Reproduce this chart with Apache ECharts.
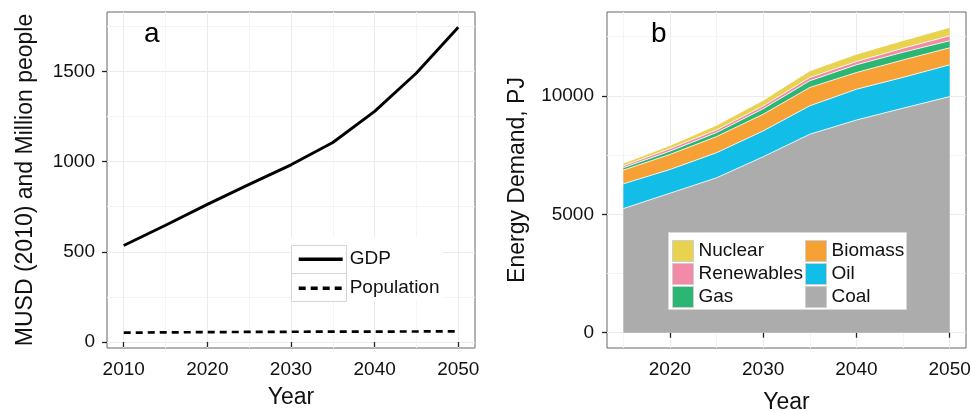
<!DOCTYPE html>
<html><head><meta charset="utf-8">
<script src="https://cdn.jsdelivr.net/npm/echarts@6/dist/echarts.min.js"></script>
<style>html,body{margin:0;padding:0;background:#fff}#c{width:971px;height:411px}</style>
</head><body><div id="c"></div>
<script>
// ---- Panel a data ----
const yearsA = [2010, 2015, 2020, 2025, 2030, 2035, 2040, 2045, 2050];
const gdp = [535, 647, 763, 874, 982, 1106, 1278, 1491, 1744];
const population = [52, 53.5, 55, 56, 57, 57.5, 58, 58.5, 59];
const ticksXA = [2010, 2020, 2030, 2040, 2050];
const minorXA = [2015, 2025, 2035, 2045];
const ticksYA = [0, 500, 1000, 1500];
const minorYA = [250, 750, 1250, 1750];

// ---- Panel b data ----
const yearsB = [2015, 2020, 2025, 2030, 2035, 2040, 2045, 2050];
const coal = [5240, 5890, 6540, 7430, 8380, 8980, 9480, 9970];
const oil = [1045, 1000, 1060, 1090, 1200, 1300, 1300, 1340];
const biomass = [580, 635, 680, 705, 775, 705, 735, 720];
const gas = [100, 140, 170, 230, 280, 325, 325, 295];
const renewables = [80, 110, 115, 120, 140, 140, 170, 210];
const nuclear = [110, 130, 195, 240, 280, 310, 325, 355];
const ticksXB = [2020, 2030, 2040, 2050];
const minorXB = [2015, 2025, 2035, 2045];
const ticksYB = [0, 5000, 10000];
const minorYB = [2500, 7500, 12500];

const FONT = "'Liberation Sans', Arial, Helvetica, sans-serif";
const colors = {Nuclear:'#E8D24F', Renewables:'#F38BA8', Gas:'#2BB673', Biomass:'#F7A035', Oil:'#12BDE7', Coal:'#ABACAB'};

function majorAxis(gridIndex, min, max, ticks, pos, name, nameGap, margin) {
  return {
    type:'value', gridIndex, min, max, position:pos,
    axisLine:{show:false},
    axisTick:{show:true, length:5, customValues:ticks, lineStyle:{color:'#222', width:1.3}},
    axisLabel:{customValues:ticks, margin, fontSize:19, color:'#111', fontFamily:FONT, formatter:v=>String(v)},
    splitLine:{show:true, lineStyle:{color:'#EBEBEB', width:1}},
    name, nameLocation:'middle', nameGap,
    nameTextStyle:{fontSize:23, color:'#111', fontFamily:FONT}
  };
}
function minorAxis(gridIndex, min, max, ticks, pos) {
  return {
    type:'value', gridIndex, min, max, position:pos,
    axisLine:{show:false},
    axisTick:{show:false, customValues:ticks},
    axisLabel:{show:false, customValues:ticks},
    splitLine:{show:true, lineStyle:{color:'#F4F4F4', width:1}}
  };
}

const pair = (xs, ys) => xs.map((x,i)=>[x, ys[i]]);
// value first so that stacking happens on the y (value) dimension
const pairVY = (xs, ys) => xs.map((x,i)=>[ys[i], x]);

const areaNames = ['Coal','Oil','Biomass','Gas','Renewables','Nuclear'];
const areaData = {Coal:coal, Oil:oil, Biomass:biomass, Gas:gas, Renewables:renewables, Nuclear:nuclear};
const areaSeries = areaNames.map(n => ({
  name:n, type:'line', xAxisIndex:2, yAxisIndex:2, stack:'energy',
  data: pairVY(yearsB, areaData[n]), encode:{x:1, y:0},
  symbol:'none', smooth:false,
  lineStyle:{color:'#fff', width:0.8},
  itemStyle:{color:colors[n]},
  areaStyle:{color:colors[n], opacity:1}
}));

const legendText = {fontSize:19, color:'#111', fontFamily:FONT, lineHeight:21};
const legItem = n => ({name:n, itemStyle:{color:colors[n], borderColor:'#CFCFCF', borderWidth:1}});

const option = {
  animation:false,
  backgroundColor:'#fff',
  textStyle:{fontFamily:FONT},
  grid:[
    {left:107, top:12, width:368, height:336, show:true, borderColor:'#666', borderWidth:1, backgroundColor:'transparent', outerBoundsMode:'none'},
    {left:607, top:12, width:359, height:336, show:true, borderColor:'#666', borderWidth:1, backgroundColor:'transparent', outerBoundsMode:'none'}
  ],
  xAxis:[
    majorAxis(0, 2008, 2052, ticksXA, 'bottom', 'Year', 38, 12),
    minorAxis(0, 2008, 2052, minorXA, 'bottom'),
    majorAxis(1, 2013.25, 2051.75, ticksXB, 'bottom', 'Year', 43, 12),
    minorAxis(1, 2013.25, 2051.75, minorXB, 'bottom')
  ],
  yAxis:[
    majorAxis(0, -33, 1829, ticksYA, 'left', 'MUSD (2010) and Million people', 70, 12),
    minorAxis(0, -33, 1829, minorYA, 'left'),
    majorAxis(1, -645, 13540, ticksYB, 'left', 'Energy Demand, PJ', 78, 13),
    minorAxis(1, -645, 13540, minorYB, 'left')
  ],
  legend:[
    {orient:'vertical', left:297, top:248, padding:0, itemWidth:44, itemHeight:28, itemGap:6.6, z:10,
     selectedMode:false, textStyle:{fontSize:19, color:'#111', fontFamily:FONT, padding:[0,0,0,2]},
     itemStyle:{opacity:0}, lineStyle:{width:3.4},
     data:['GDP','Population']},
    {orient:'vertical', left:672, top:240, padding:0, itemWidth:21, itemHeight:21, itemGap:1, z:10,
     selectedMode:false, icon:'rect', textStyle:legendText,
     data:['Nuclear','Renewables','Gas'].map(legItem)},
    {orient:'vertical', left:805, top:240, padding:0, itemWidth:21, itemHeight:21, itemGap:1, z:10,
     selectedMode:false, icon:'rect', textStyle:legendText,
     data:['Biomass','Oil','Coal'].map(legItem)}
  ],
  graphic:{elements:[
    {type:'rect', z:5, shape:{x:290, y:237, width:153, height:64}, style:{fill:'#fff'}},
    {type:'rect', z:6, shape:{x:291.5, y:245.5, width:55, height:28}, style:{fill:'#fff', stroke:'#D5D5D5', lineWidth:1}},
    {type:'rect', z:6, shape:{x:291.5, y:273.5, width:55, height:28}, style:{fill:'#fff', stroke:'#D5D5D5', lineWidth:1}},
    {type:'rect', z:5, shape:{x:668.5, y:232.5, width:238, height:77}, style:{fill:'#fff', stroke:'#DADADA', lineWidth:1}},
    {type:'text', z:6, x:144, y:34, style:{text:'a', fontSize:28, fontFamily:FONT, fill:'#000', verticalAlign:'middle'}},
    {type:'text', z:6, x:651, y:34, style:{text:'b', fontSize:28, fontFamily:FONT, fill:'#000', verticalAlign:'middle'}}
  ]},
  series:[
    {name:'GDP', type:'line', xAxisIndex:0, yAxisIndex:0, data:pair(yearsA, gdp), symbol:'none',
     lineStyle:{color:'#000', width:2.9}, itemStyle:{color:'#000'}},
    {name:'Population', type:'line', xAxisIndex:0, yAxisIndex:0, data:pair(yearsA, population), symbol:'none',
     lineStyle:{color:'#000', width:2.7, type:[7,5]}, itemStyle:{color:'#000'}},
    ...areaSeries
  ]
};
const chart = echarts.init(document.getElementById('c'));
chart.setOption(option);
</script>
</body></html>
